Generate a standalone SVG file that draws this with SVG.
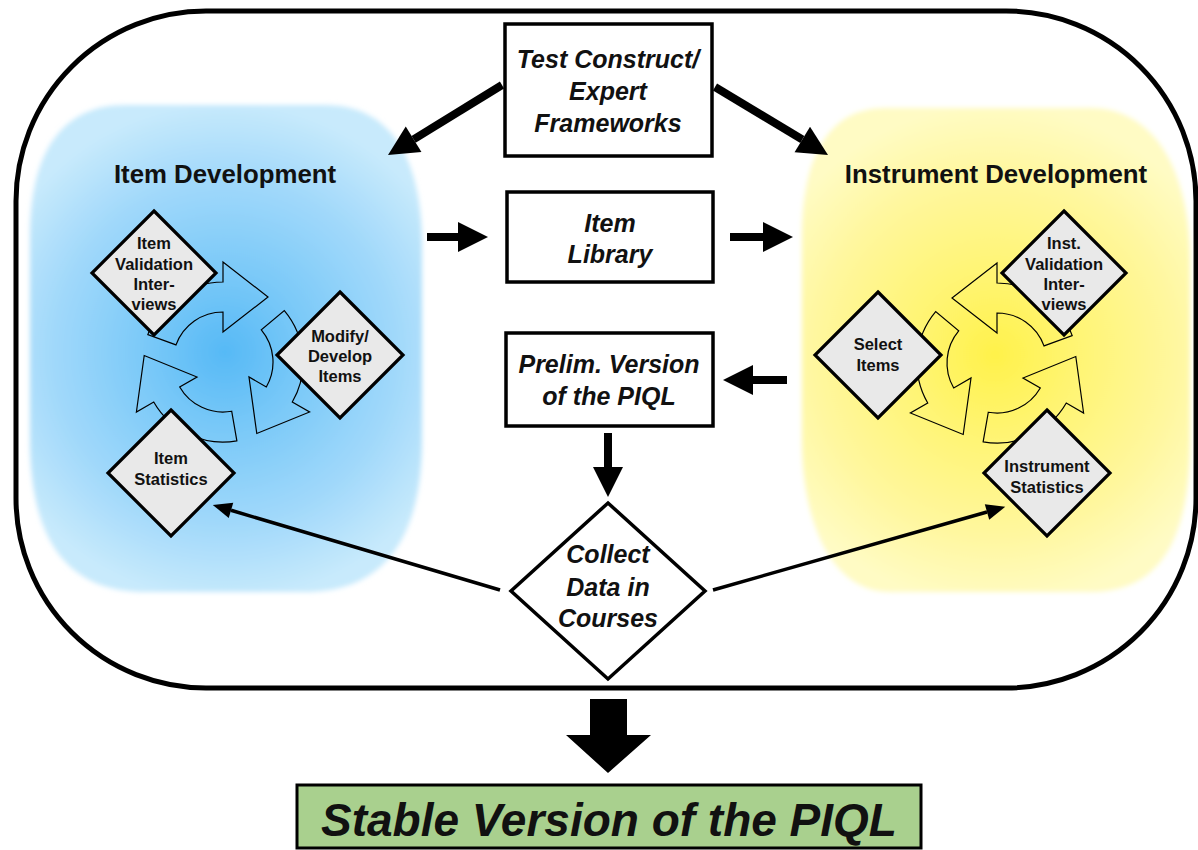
<svg xmlns="http://www.w3.org/2000/svg" xmlns:xlink="http://www.w3.org/1999/xlink" width="1198" height="850" viewBox="0 0 1198 850">
  <style>
    .frame { fill: none; stroke: #000; stroke-width: 5; }
    .box { fill: #fff; stroke: #000; stroke-width: 3.5; }
    .sd { fill: #e9e9e9; stroke: #000; stroke-width: 3.2; stroke-linejoin: miter; }
    .cyc { fill: none; stroke: #000; stroke-width: 1.2; stroke-linejoin: miter; }
    .bi { font-family: "Liberation Sans", Arial, sans-serif; font-weight: bold; font-style: italic; font-size: 25px; fill: #111; text-anchor: middle; }
    .sm { font-family: "Liberation Sans", Arial, sans-serif; font-weight: bold; font-size: 16.5px; fill: #111; text-anchor: middle; }
    .hd { font-family: "Liberation Sans", Arial, sans-serif; font-weight: bold; font-size: 25.8px; fill: #111; text-anchor: middle; }
    .thick { stroke: #000; stroke-width: 8; fill: none; }
    .thin { stroke: #000; stroke-width: 3.5; fill: none; }
  </style>
  <defs>
    <radialGradient id="gBlue" gradientUnits="userSpaceOnUse" cx="225" cy="352" r="250">
      <stop offset="0" stop-color="#56b9f6"/>
      <stop offset="0.3" stop-color="#78c8f8"/>
      <stop offset="0.7" stop-color="#a2d9fa"/>
      <stop offset="1" stop-color="#c8eafc"/>
    </radialGradient>
    <radialGradient id="gYellow" gradientUnits="userSpaceOnUse" cx="995" cy="355" r="250">
      <stop offset="0" stop-color="#fff24a"/>
      <stop offset="0.3" stop-color="#fff470"/>
      <stop offset="0.7" stop-color="#fff79c"/>
      <stop offset="1" stop-color="#fffbc4"/>
    </radialGradient>
    <filter id="soft" x="-10%" y="-10%" width="120%" height="120%">
      <feGaussianBlur stdDeviation="2.5"/>
    </filter>
    <marker id="bigHead" markerUnits="userSpaceOnUse" markerWidth="32" markerHeight="32" refX="0" refY="15" orient="auto" overflow="visible">
      <path d="M0,0 L30,15 L0,30 Z" fill="#000"/>
    </marker>
    <marker id="smallHead" markerUnits="userSpaceOnUse" markerWidth="20" markerHeight="18" refX="0" refY="8" orient="auto" overflow="visible">
      <path d="M0,0 L19,8 L0,16 Z" fill="#000"/>
    </marker>
    <path id="cycArrow" class="cyc" d="M147.8,334.6 A80,80 0 0 1 223,282 L223,262 L268,297 L223,332 L223,312 A50,50 0 0 0 176,344.9 Z"/>
    <g id="cycle">
      <use xlink:href="#cycArrow"/>
      <use xlink:href="#cycArrow" transform="rotate(120 223 362)"/>
      <use xlink:href="#cycArrow" transform="rotate(240 223 362)"/>
    </g>
  </defs>

  <!-- outer frame -->
  <rect id="frame" class="frame" x="16" y="11" width="1180" height="677" rx="190" ry="190"/>

  <!-- blobs -->
  <g id="itemDevelopment">
    <path d="M125,105 L325,105 C395,105 422,165 422,245 L422,440 C422,530 390,592 305,592 L145,592 C60,592 30,530 30,440 L30,235 C30,155 60,105 125,105 Z" fill="url(#gBlue)" filter="url(#soft)"/>
    <text class="hd" x="225" y="183">Item Development</text>
    <use xlink:href="#cycle"/>
  </g>
  <g id="instrumentDevelopment">
    <path d="M885,108 L1090,108 C1160,108 1190,180 1190,260 L1190,440 C1190,540 1160,592 1090,592 L890,592 C830,592 802,520 802,440 L802,235 C802,155 830,108 885,108 Z" fill="url(#gYellow)" filter="url(#soft)"/>
    <text class="hd" x="996" y="183">Instrument Development</text>
    <use xlink:href="#cycle" transform="translate(1220,1) scale(-1,1)"/>
  </g>

  <!-- connectors -->
  <g id="connectors">
    <line class="thick" x1="502" y1="85" x2="413.6" y2="139.3" marker-end="url(#bigHead)"/>
    <line class="thick" x1="715" y1="87" x2="802.3" y2="139.5" marker-end="url(#bigHead)"/>
    <line class="thick" x1="427" y1="237" x2="458" y2="237" marker-end="url(#bigHead)"/>
    <line class="thick" x1="730" y1="237" x2="763" y2="237" marker-end="url(#bigHead)"/>
    <line class="thick" x1="787" y1="380" x2="753" y2="380" marker-end="url(#bigHead)"/>
    <line class="thick" x1="608" y1="433" x2="608" y2="467" marker-end="url(#bigHead)"/>
    <line class="thin" x1="500" y1="590" x2="231" y2="510.3" marker-end="url(#smallHead)"/>
    <line class="thin" x1="713" y1="590" x2="987" y2="512" marker-end="url(#smallHead)"/>
    <polygon points="590,699 627,699 627,735 651,735 608,773 566,735 590,735" fill="#000"/>
  </g>

  <!-- central nodes -->
  <g id="testConstruct">
    <rect class="box" x="505" y="24" width="207" height="132"/>
    <text class="bi" x="608" y="68">Test Construct/</text>
    <text class="bi" x="608" y="100">Expert</text>
    <text class="bi" x="608" y="132">Frameworks</text>
  </g>
  <g id="itemLibrary">
    <rect class="box" x="507" y="192" width="206" height="90"/>
    <text class="bi" x="610" y="232">Item</text>
    <text class="bi" x="610" y="263">Library</text>
  </g>
  <g id="prelimVersion">
    <rect class="box" x="506" y="333" width="207" height="93"/>
    <text class="bi" x="609" y="373">Prelim. Version</text>
    <text class="bi" x="609" y="405">of the PIQL</text>
  </g>
  <g id="collectData">
    <polygon class="box" points="608,503 705,591 608,679 511,591"/>
    <text class="bi" x="608" y="563">Collect</text>
    <text class="bi" x="608" y="596">Data in</text>
    <text class="bi" x="608" y="627">Courses</text>
  </g>

  <!-- left diamonds -->
  <g id="itemValidation">
    <polygon class="sd" points="154,211 216,273 154,335 92,273"/>
    <text class="sm" x="154" y="249">Item</text>
    <text class="sm" x="154" y="270">Validation</text>
    <text class="sm" x="154" y="290">Inter-</text>
    <text class="sm" x="154" y="310">views</text>
  </g>
  <g id="modifyDevelop">
    <polygon class="sd" points="340,292 403,355 340,418 277,355"/>
    <text class="sm" x="340" y="342">Modify/</text>
    <text class="sm" x="340" y="362">Develop</text>
    <text class="sm" x="340" y="382">Items</text>
  </g>
  <g id="itemStatistics">
    <polygon class="sd" points="171,410 234,473 171,536 108,473"/>
    <text class="sm" x="171" y="464">Item</text>
    <text class="sm" x="171" y="485">Statistics</text>
  </g>

  <!-- right diamonds -->
  <g id="instValidation">
    <polygon class="sd" points="1064,211 1126,273 1064,335 1002,273"/>
    <text class="sm" x="1064" y="249">Inst.</text>
    <text class="sm" x="1064" y="270">Validation</text>
    <text class="sm" x="1064" y="290">Inter-</text>
    <text class="sm" x="1064" y="310">views</text>
  </g>
  <g id="selectItems">
    <polygon class="sd" points="878,292 941,355 878,418 815,355"/>
    <text class="sm" x="878" y="350">Select</text>
    <text class="sm" x="878" y="371">Items</text>
  </g>
  <g id="instrumentStatistics">
    <polygon class="sd" points="1047,410 1110,473 1047,536 984,473"/>
    <text class="sm" x="1047" y="472">Instrument</text>
    <text class="sm" x="1047" y="493">Statistics</text>
  </g>

  <!-- stable version -->
  <g id="stableVersion">
    <rect x="297" y="785" width="624" height="63" fill="#a9d08e" stroke="#000" stroke-width="3"/>
    <text x="609" y="836" font-family="Liberation Sans, Arial, sans-serif" font-weight="bold" font-style="italic" font-size="46" fill="#111" text-anchor="middle">Stable Version of the PIQL</text>
  </g>
</svg>
